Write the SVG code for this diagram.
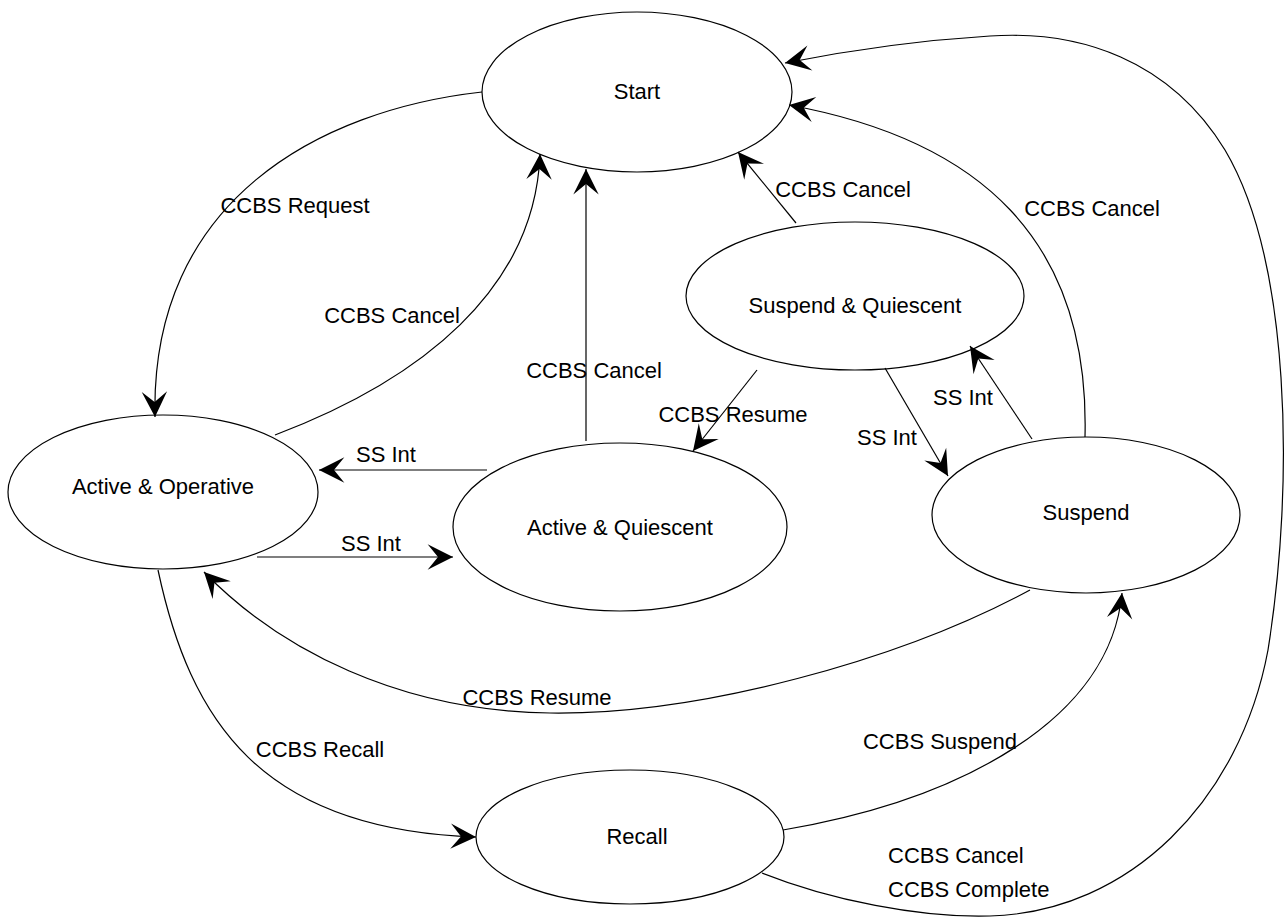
<svg xmlns="http://www.w3.org/2000/svg" width="1286" height="917" viewBox="0 0 1286 917">
<style>
.node ellipse{fill:#fff;stroke:#000;stroke-width:1.2}
text{font-family:"Liberation Sans",Arial,sans-serif;font-size:22px;fill:#000}
.node text{text-anchor:middle}
.lbl{text-anchor:middle}
.edges path{fill:none;stroke:#000;stroke-width:1.2;marker-end:url(#arr)}
</style>
<defs>
<marker id="arr" markerUnits="userSpaceOnUse" markerWidth="30" markerHeight="30" refX="0" refY="0" viewBox="-24 -13 26 26" orient="auto" overflow="visible">
<path d="M0,0 L-22,-11 L-13,0 L-22,11 Z" fill="#000"/>
</marker>
</defs>
<rect width="1286" height="917" fill="#fff"/>
<g id="start" class="node"><ellipse cx="637" cy="92" rx="155" ry="80"/><text x="637" y="99">Start</text></g>
<g id="suspend-quiescent" class="node"><ellipse cx="855" cy="296" rx="169" ry="74"/><text x="855" y="313">Suspend &amp; Quiescent</text></g>
<g id="active-operative" class="node"><ellipse cx="163" cy="492" rx="155" ry="77"/><text x="163" y="494">Active &amp; Operative</text></g>
<g id="active-quiescent" class="node"><ellipse cx="620" cy="527" rx="167" ry="84"/><text x="620" y="535">Active &amp; Quiescent</text></g>
<g id="suspend" class="node"><ellipse cx="1086" cy="515" rx="154" ry="78"/><text x="1086" y="520">Suspend</text></g>
<g id="recall" class="node"><ellipse cx="630" cy="837" rx="154" ry="67"/><text x="637" y="844">Recall</text></g>
<g class="edges">
<path d="M482,92 C320,110 150,200 155,417"/>
<path d="M275,435 C420,380 535,290 540,154"/>
<path d="M586,441 L586,169"/>
<path d="M796,223 L738,152"/>
<path d="M1085,437 C1090,240 980,140 789,105"/>
<path d="M762,873 C830,900 920,918 990,916 C1130,912 1240,800 1268,650 C1295,480 1290,260 1225,150 C1170,60 1080,30 990,36 C910,41 850,50 785,63"/>
<path d="M487,470 L319,470"/>
<path d="M257,557 L453,557"/>
<path d="M757,370 L693,451"/>
<path d="M885,368 L948,476"/>
<path d="M1032,439 L970,346"/>
<path d="M1030,590 C900,660 700,715 550,713 C400,711 280,650 204,572"/>
<path d="M158,570 C190,720 260,830 476,837"/>
<path d="M783,830 C960,800 1110,720 1122,593"/>
</g>
<g id="labels">
<text class="lbl" x="295" y="213">CCBS Request</text>
<text class="lbl" x="392" y="323">CCBS Cancel</text>
<text class="lbl" x="594" y="378">CCBS Cancel</text>
<text class="lbl" x="843" y="197">CCBS Cancel</text>
<text class="lbl" x="1092" y="216">CCBS Cancel</text>
<text class="lbl" x="386" y="462">SS Int</text>
<text class="lbl" x="371" y="551">SS Int</text>
<text class="lbl" x="733" y="422">CCBS Resume</text>
<text class="lbl" x="887" y="445">SS Int</text>
<text class="lbl" x="963" y="405">SS Int</text>
<text class="lbl" x="537" y="705">CCBS Resume</text>
<text class="lbl" x="320" y="757">CCBS Recall</text>
<text class="lbl" x="940" y="749">CCBS Suspend</text>
<text x="888" y="863">CCBS Cancel</text>
<text x="888" y="897">CCBS Complete</text>
</g>
</svg>
